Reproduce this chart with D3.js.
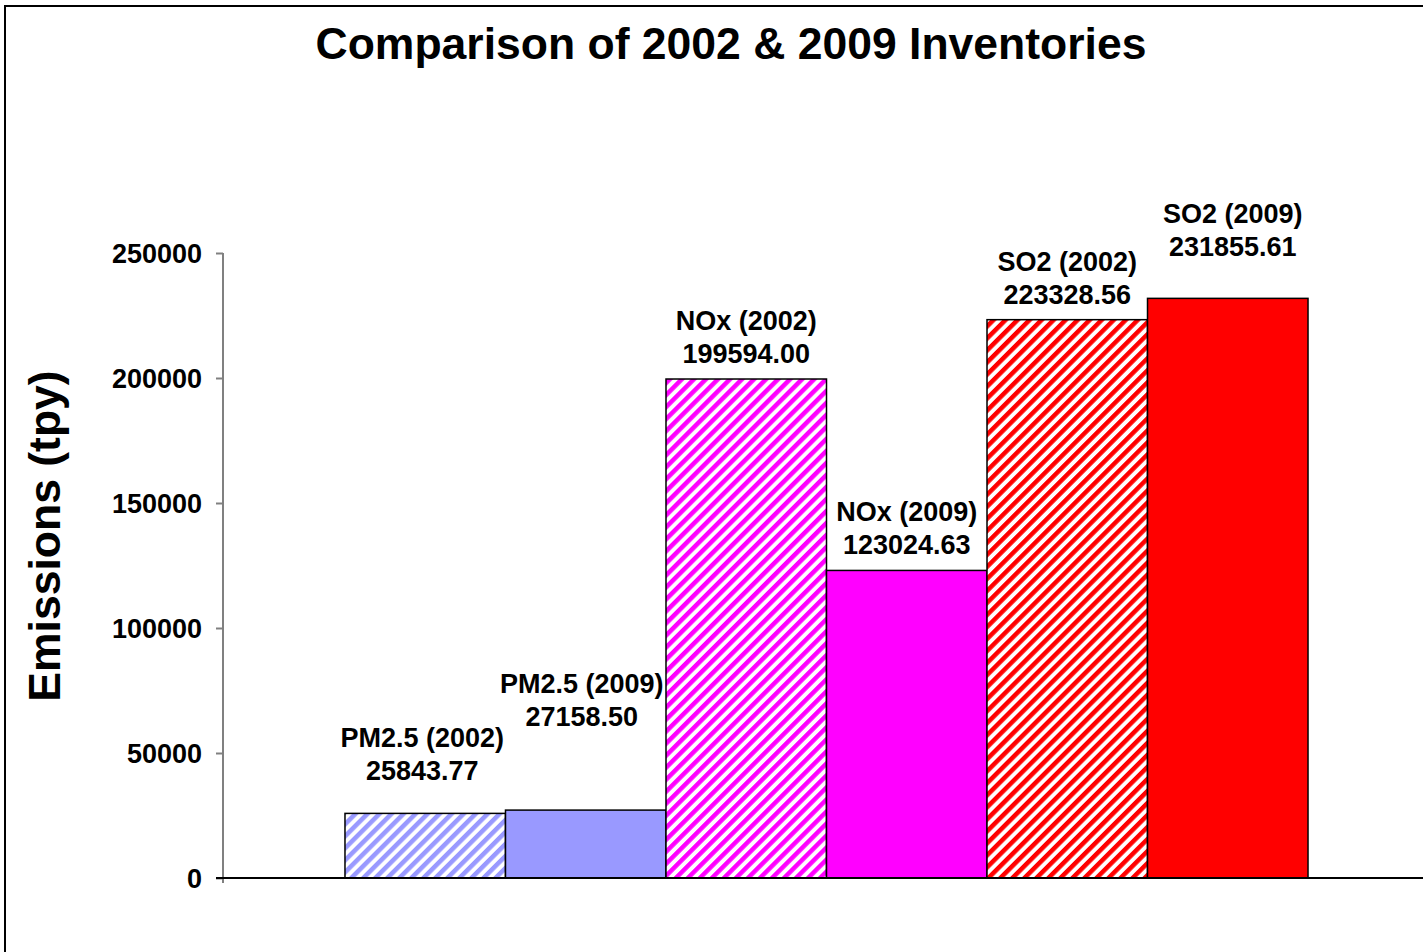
<!DOCTYPE html>
<html lang="en">
<head>
    <meta charset="UTF-8">
    <title>Comparison of 2002 & 2009 Inventories</title>
    <script src="https://d3js.org/d3.v7.min.js"></script>
    <style>
        body { margin: 0; padding: 0; background: #fff; }
        svg { display: block; font-family: "Liberation Sans", Arial, sans-serif; }
        .tick text { font-size: 27px; font-weight: bold; fill: #000; }
    </style>
</head>
<body>
    <script>
        // data
        const series = ["PM2.5 (2002)", "PM2.5 (2009)", "NOx (2002)", "NOx (2009)", "SO2 (2002)", "SO2 (2009)"];
        const values = [25843.77, 27158.50, 199594.00, 123024.63, 223328.56, 231855.61];
        const colors = ["#9999ff", "#9999ff", "#ff00ff", "#ff00ff", "#ff0000", "#ff0000"];
        const hatched = [true, false, true, false, true, false];
        const yTicks = [0, 50000, 100000, 150000, 200000, 250000];
        // hand-moved labels (pixels): [dx, dy]
        const labelNudge = [[-3, -17], [-4, -68], [0, 0], [0, 0], [0, 0], [5, -26]];

        const width = 1423, height = 952;
        const svg = d3.select("body").append("svg")
            .attr("width", width)
            .attr("height", height);

        const defs = svg.append("defs");
        series.forEach((s, i) => {
            if (!hatched[i]) return;
            const p = defs.append("pattern")
                .attr("id", "hatch" + i)
                .attr("patternUnits", "userSpaceOnUse")
                .attr("width", 8.5)
                .attr("height", 8.5)
                .attr("patternTransform", "rotate(45)");
            p.append("rect").attr("width", 8.5).attr("height", 8.5).attr("fill", "#fff");
            p.append("rect").attr("width", 4.5).attr("height", 8.5).attr("fill", colors[i]);
        });

        // outer chart border (runs off the picture on the right/bottom)
        svg.append("rect")
            .attr("x", 5).attr("y", 6)
            .attr("width", 1500).attr("height", 1000)
            .attr("fill", "none")
            .attr("stroke", "#000")
            .attr("stroke-width", 2);

        const plotLeft = 223, plotRight = 1430, plotTop = 253, plotBottom = 878;

        const x = d3.scaleBand()
            .domain(series)
            .range([plotLeft, plotRight])
            .paddingInner(0)
            .paddingOuter(0.76);

        const y = d3.scaleLinear()
            .domain([0, 250000])
            .range([plotBottom, plotTop]);

        // y axis
        const yAxis = svg.append("g")
            .attr("transform", `translate(${plotLeft},0)`)
            .call(d3.axisLeft(y).tickValues(yTicks).tickSize(7).tickPadding(14).tickFormat(d3.format("d")));
        yAxis.select(".domain").attr("stroke", "#808080").attr("stroke-width", 2)
            .attr("d", `M0,${plotTop}V${plotBottom + 5}`);
        yAxis.selectAll(".tick line").attr("stroke", "#808080").attr("stroke-width", 2);
        yAxis.selectAll(".tick text").attr("dy", "0.36em");

        // bars
        svg.append("g").selectAll("rect")
            .data(series)
            .join("rect")
            .attr("x", d => x(d))
            .attr("y", (d, i) => y(values[i]))
            .attr("width", x.bandwidth())
            .attr("height", (d, i) => y(0) - y(values[i]))
            .attr("fill", (d, i) => hatched[i] ? `url(#hatch${i})` : colors[i])
            .attr("stroke", "#000")
            .attr("stroke-width", 1.5);

        // x axis line
        svg.append("line")
            .attr("x1", plotLeft - 7).attr("x2", width)
            .attr("y1", plotBottom).attr("y2", plotBottom)
            .attr("stroke", "#000")
            .attr("stroke-width", 2);

        // data labels
        const labels = svg.append("g")
            .attr("font-size", 27)
            .attr("font-weight", "bold")
            .attr("text-anchor", "middle");
        series.forEach((s, i) => {
            const cx = x(s) + x.bandwidth() / 2 + labelNudge[i][0];
            const top = y(values[i]) + labelNudge[i][1];
            const t = labels.append("text").attr("x", cx).attr("y", top - 16);
            t.append("tspan").attr("x", cx).attr("dy", -33).text(s);
            t.append("tspan").attr("x", cx).attr("dy", 33).text(values[i].toFixed(2));
        });

        // title
        svg.append("text")
            .attr("x", 731)
            .attr("y", 59)
            .attr("text-anchor", "middle")
            .attr("font-size", 44.5)
            .attr("font-weight", "bold")
            .text("Comparison of 2002 & 2009 Inventories");

        // y axis title
        svg.append("text")
            .attr("transform", `translate(60,536) rotate(-90)`)
            .attr("text-anchor", "middle")
            .attr("font-size", 44.5)
            .attr("font-weight", "bold")
            .text("Emissions (tpy)");
    </script>
</body>
</html>
